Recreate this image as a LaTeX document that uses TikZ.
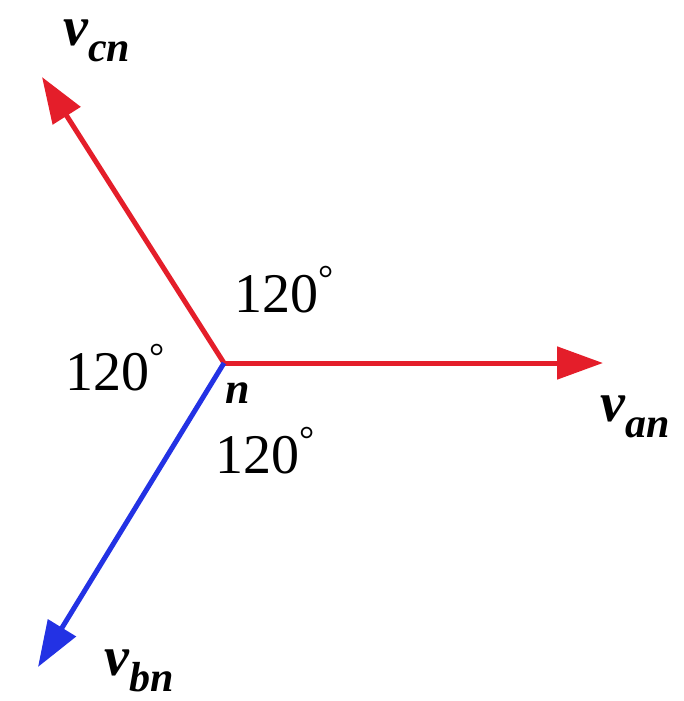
\documentclass[tikz,border=0pt]{standalone}
\usepackage{fontspec}
\setmainfont{Liberation Serif}
\usetikzlibrary{arrows.meta}
\definecolor{phred}{RGB}{228,30,42}
\definecolor{phblue}{RGB}{35,50,228}
\newcommand{\vlab}[1]{{\fontsize{56}{56}\selectfont\bfseries\itshape v}\raisebox{-16pt}{\fontsize{42}{42}\selectfont\bfseries\itshape #1}}
\newcommand{\degl}{{\fontsize{56}{56}\selectfont 120\raisebox{21pt}{\fontsize{38}{38}\selectfont °}}}
\begin{document}
\begin{tikzpicture}[x=1pt,y=-1pt,
  phasor/.style={line width=5pt,-{Triangle[length=46pt,width=32pt]}},
  lab/.style={inner sep=0pt,anchor=base west}]
\useasboundingbox (0,0) rectangle (684,701);
\coordinate (O) at (224,363);
\coordinate (A) at (603,363);
\coordinate (C) at (42,77);
\coordinate (B) at (38,667);
\draw[phasor,phred] (O) -- (A);
\draw[phasor,phred] (O) -- (C);
\draw[phasor,phblue] (O) -- (B);
\node[lab] (van) at (600,421) {\vlab{an}};
\node[lab] (vcn) at (63,46) {\vlab{cn}};
\node[lab] (vbn) at (104,675) {\vlab{bn}};
\node[lab] (n) at (225,403) {\fontsize{44}{44}\selectfont\bfseries\itshape n};
\node[lab] (d1) at (234,312) {\degl};
\node[lab] (d2) at (65,390) {\degl};
\node[lab] (d3) at (215,473) {\degl};
\end{tikzpicture}
\end{document}
